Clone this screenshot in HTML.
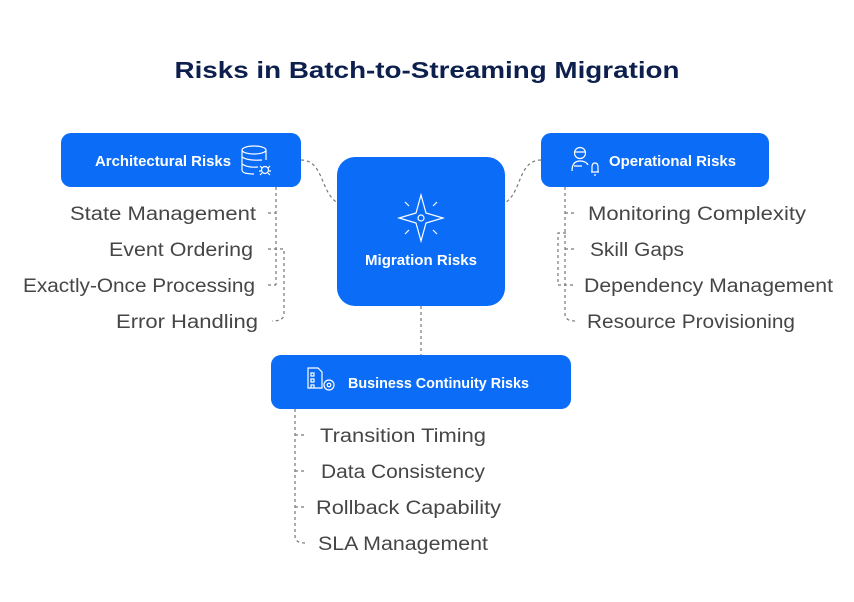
<!DOCTYPE html>
<html><head><meta charset="utf-8"><style>
html,body{margin:0;padding:0;background:#fff;}
svg{display:block;}
text{font-family:"Liberation Sans",sans-serif;}
.it{font-size:19px;fill:#464646;}
.bl{font-size:14.5px;fill:#fff;font-weight:bold;}
.d{fill:none;stroke:#777;stroke-width:1.2;stroke-dasharray:3 3;}
.ic{fill:none;stroke:#fff;stroke-width:1.2;}
</style></head><body>
<svg width="854" height="602" viewBox="0 0 854 602">
<rect width="854" height="602" fill="#fff"/>
<text x="427" y="78" text-anchor="middle" font-size="23" font-weight="bold" fill="#0d1f4d" textLength="505" lengthAdjust="spacingAndGlyphs">Risks in Batch-to-Streaming Migration</text>

<!-- connectors -->
<path class="d" d="M301,160 C328,160 318,206 350,206"/>
<path class="d" d="M541,160 C514,160 524,206 493,206"/>
<path class="d" d="M421,306 L421,355"/>
<path class="d" d="M276,187 L276,285 M268,213 L276,213 M268,285 L276,285 M268,249 L284,249 L284,314 Q284,321 272,321"/>
<path class="d" d="M565,187 L565,314 Q565,321 575,321 M565,213 L575,213 M565,249 L575,249 M566,233 L558,233 L558,285 L575,285"/>
<path class="d" d="M295,409 L295,536 Q295,543 305,543 M295,435 L305,435 M295,471 L305,471 M295,507 L305,507"/>

<!-- boxes -->
<rect x="61" y="133" width="240" height="54" rx="10" fill="#0b6cf7"/>
<rect x="541" y="133" width="228" height="54" rx="10" fill="#0b6cf7"/>
<rect x="337" y="157" width="168" height="149" rx="18" fill="#0b6cf7"/>
<rect x="271" y="355" width="300" height="54" rx="10" fill="#0b6cf7"/>

<text class="bl" x="95" y="166" textLength="136" lengthAdjust="spacingAndGlyphs">Architectural Risks</text>
<text class="bl" x="609" y="166" textLength="127" lengthAdjust="spacingAndGlyphs">Operational Risks</text>
<text class="bl" x="365" y="265" textLength="112" lengthAdjust="spacingAndGlyphs">Migration Risks</text>
<text class="bl" x="348" y="388" textLength="181" lengthAdjust="spacingAndGlyphs">Business Continuity Risks</text>

<!-- icons -->
<g class="ic">
<ellipse cx="254" cy="150" rx="12" ry="4"/>
<path d="M242,150 V170 Q242,174 254,174 M266,150 V160 M242,157 Q248,161 262,160 M242,164 Q248,168 258,167"/>
<circle cx="265" cy="170" r="3.5"/><path d="M260,166 l2,2 M270,166 l-2,2 M259,171 h2 M269,171 h2 M260,175 l2,-2 M270,175 l-2,-2"/>
<path d="M421,195 L426,213 L443,218 L426,223 L421,241 L416,223 L399,218 L416,213 Z"/>
<circle cx="421" cy="218" r="3"/>
<path d="M405,202 l4,4 M437,202 l-4,4 M405,234 l4,-4 M437,234 l-4,-4"/>
<circle cx="580" cy="153" r="5.5"/><path d="M574,152 h12 M572,171 Q572,161 580,161 Q586,161 588,165 M574,166 h8"/>
<path d="M592,172 v-5 q0,-4 3,-4 q3,0 3,4 v5 h-7 h8 M594,175 h2"/>
<path d="M308,368 h10 l4,4 v16 h-14 Z M311,373 h3 v3 h-3z M311,379 h3 v3 h-3z M311,385 h3 v3 h-3z"/>
<circle cx="329" cy="385" r="5"/><circle cx="329" cy="385" r="1.8"/>
</g>

<!-- items -->
<g class="it" text-anchor="end">
<text x="256" y="220" textLength="186" lengthAdjust="spacingAndGlyphs">State Management</text>
<text x="253" y="256" textLength="144" lengthAdjust="spacingAndGlyphs">Event Ordering</text>
<text x="255" y="292" textLength="232" lengthAdjust="spacingAndGlyphs">Exactly-Once Processing</text>
<text x="258" y="328" textLength="142" lengthAdjust="spacingAndGlyphs">Error Handling</text>
</g>
<g class="it">
<text x="588" y="220" textLength="218" lengthAdjust="spacingAndGlyphs">Monitoring Complexity</text>
<text x="590" y="256" textLength="94" lengthAdjust="spacingAndGlyphs">Skill Gaps</text>
<text x="584" y="292" textLength="249" lengthAdjust="spacingAndGlyphs">Dependency Management</text>
<text x="587" y="328" textLength="208" lengthAdjust="spacingAndGlyphs">Resource Provisioning</text>
<text x="320" y="442" textLength="166" lengthAdjust="spacingAndGlyphs">Transition Timing</text>
<text x="321" y="478" textLength="164" lengthAdjust="spacingAndGlyphs">Data Consistency</text>
<text x="316" y="514" textLength="185" lengthAdjust="spacingAndGlyphs">Rollback Capability</text>
<text x="318" y="550" textLength="170" lengthAdjust="spacingAndGlyphs">SLA Management</text>
</g>
</svg>
</body></html>
